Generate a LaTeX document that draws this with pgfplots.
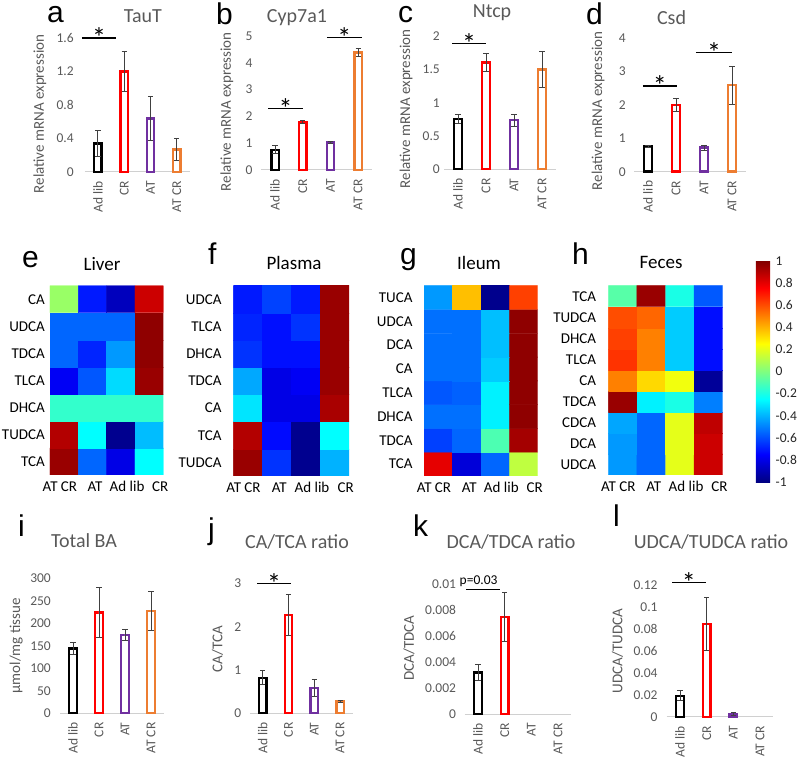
\documentclass[border=0pt]{standalone}
\usepackage{pgfplots}
\pgfplotsset{compat=1.18}
\usepackage{fontspec}
\setmainfont{Carlito}
\newfontfamily\letterfont{Liberation Sans}
\definecolor{txtc}{HTML}{595959}
\definecolor{basec}{HTML}{D0D0D0}
\definecolor{errc}{HTML}{404040}
\definecolor{cred}{HTML}{FF0000}
\definecolor{cpur}{HTML}{7030A0}
\definecolor{corg}{HTML}{ED7D31}
\newcommand{\fs}[1]{\fontsize{#1}{#1}\selectfont}
\pgfkeys{/pgf/number format/assume math mode=true}
\tikzset{
 sig/.style={black, line width=1.3pt},
 star/.style={anchor=base, yshift=-10pt, font=\fs{28}, text=black},
}
\pgfplotsset{
 exbar/.style={scale only axis, anchor=south west, clip=false, ymin=0,
   xmin=-0.5, xmax=3.5, xtick={0,1,2,3}, xticklabels={Ad lib,CR,AT,AT CR},
   axis x line*=bottom, axis y line*=left,
   x axis line style={draw=basec, line width=1pt, -},
   y axis line style={draw=none},
   major tick length=0pt,
   tick label style={font=\fs{13.5}, text=txtc},
   xticklabel style={rotate=90, anchor=east, inner sep=0pt},
   xticklabel shift=9pt,
   scaled y ticks=false,
   yticklabel style={anchor=east, inner sep=0pt, /pgf/number format/fixed, /pgf/number format/precision=3},
   ylabel style={font=\fs{15}, text=txtc, anchor=center},
   title style={font=\fs{20}, text=txtc, anchor=base},
   /pgf/number format/assume math mode=true},
 exb/.style={ybar, bar width=7.5pt, bar shift=0pt, draw=#1, line width=2.4pt, fill=white,
   error bars/.cd, y dir=both, y explicit,
   error bar style={line width=0.9pt, draw=errc},
   error mark options={rotate=90, mark size=2.6pt, line width=0.9pt, draw=errc}},
 heat/.style={scale only axis, anchor=south west, enlargelimits=false,
   xmin=-0.5, xmax=3.5, axis line style={draw=none}, major tick length=0pt,
   xtick={-0.15,1.09,2.22,3.39}, xticklabels={AT CR,AT,Ad lib,CR},
   tick label style={font=\fs{15}, text=black},
   xticklabel style={anchor=base, inner sep=0pt, yshift=-16.5pt},
   yticklabel style={anchor=east, inner sep=0pt},
   colormap/jet, point meta min=-1, point meta max=1,
   title style={font=\fs{19}, text=black, anchor=base}},
}
\begin{document}
\begin{tikzpicture}
\useasboundingbox (0pt,0pt) rectangle (800pt,760pt);

% ---------- a TauT
\begin{axis}[exbar, at={(84.8pt,588pt)}, width=105.2pt, height=134pt, ymax=1.6,
  ytick={0,0.4,0.8,1.2,1.6}, yticklabel style={xshift=-11pt},
  title={TauT}, title style={at={(axis description cs:0.553,1.072)}},
  ylabel={Relative mRNA expression}, ylabel style={at={(axis description cs:-0.426,0.433)}}]
\addplot[exb=black] coordinates {(0,0.34) +- (0,0.16)};
\addplot[exb=cred] coordinates {(1,1.2) +- (0,0.24)};
\addplot[exb=cpur] coordinates {(2,0.64) +- (0,0.26)};
\addplot[exb=corg] coordinates {(3,0.27) +- (0,0.13)};
\draw[sig] (axis cs:-0.61,1.6) -- (axis cs:0.69,1.6);
\node[star] at (axis cs:0.04,1.6) {*};
\end{axis}

% ---------- b Cyp7a1
\begin{axis}[exbar, at={(261.2pt,590pt)}, width=110.8pt, height=134pt, ymax=5,
  ytick={0,1,2,3,4,5}, yticklabel style={xshift=-8.5pt},
  title={Cyp7a1}, title style={at={(axis description cs:0.323,1.057)}},
  ylabel={Relative mRNA expression}, ylabel style={at={(axis description cs:-0.309,0.435)}}]
\addplot[exb=black] coordinates {(0,0.75) +- (0,0.15)};
\addplot[exb=cred] coordinates {(1,1.8) +- (0,0.05)};
\addplot[exb=cpur] coordinates {(2,1.02) +- (0,0.03)};
\addplot[exb=corg] coordinates {(3,4.38) +- (0,0.15)};
\draw[sig] (axis cs:-0.25,2.3) -- (axis cs:1.01,2.3);
\node[star] at (axis cs:0.38,2.3) {*};
\draw[sig] (axis cs:1.87,4.94) -- (axis cs:3.14,4.94);
\node[star] at (axis cs:2.5,4.94) {*};
\end{axis}

% ---------- c Ntcp
\begin{axis}[exbar, at={(444pt,590.7pt)}, width=112pt, height=132.8pt, ymax=2,
  ytick={0,0.5,1,1.5,2}, yticklabel style={xshift=-4pt},
  title={Ntcp}, title style={at={(axis description cs:0.429,1.099)}},
  ylabel={Relative mRNA expression}, ylabel style={at={(axis description cs:-0.339,0.454)}}]
\addplot[exb=black] coordinates {(0,0.76) +- (0,0.07)};
\addplot[exb=cred] coordinates {(1,1.61) +- (0,0.13)};
\addplot[exb=cpur] coordinates {(2,0.74) +- (0,0.09)};
\addplot[exb=corg] coordinates {(3,1.5) +- (0,0.27)};
\draw[sig] (axis cs:-0.21,1.89) -- (axis cs:1.0,1.89);
\node[star] at (axis cs:0.4,1.89) {*};
\end{axis}

% ---------- d Csd
\begin{axis}[exbar, at={(634pt,588.3pt)}, width=112pt, height=133.4pt, ymax=4,
  ytick={0,1,2,3,4}, yticklabel style={xshift=-8pt},
  title={Csd}, title style={at={(axis description cs:0.335,1.062)}},
  ylabel={Relative mRNA expression}, ylabel style={at={(axis description cs:-0.321,0.455)}}]
\addplot[exb=black] coordinates {(0,0.75) +- (0,0.03)};
\addplot[exb=cred] coordinates {(1,2.0) +- (0,0.2)};
\addplot[exb=cpur] coordinates {(2,0.72) +- (0,0.08)};
\addplot[exb=corg] coordinates {(3,2.6) +- (0,0.57)};
\draw[sig] (axis cs:-0.18,2.57) -- (axis cs:1.03,2.57);
\node[star] at (axis cs:0.42,2.57) {*};
\draw[sig] (axis cs:1.71,3.58) -- (axis cs:3.0,3.58);
\node[star] at (axis cs:2.36,3.58) {*};
\end{axis}

% ---------- e Liver
\begin{axis}[heat, at={(50pt,285pt)}, width=113.3pt, height=189.3pt,
  ymin=-0.5, ymax=6.5, ytick={0,1,2,3,4,5,6},
  yticklabels={TCA,TUDCA,DHCA,TLCA,TDCA,UDCA,CA}, yticklabel style={xshift=-5pt},
  title={Liver}, title style={at={(axis description cs:0.459,1.051)}}]
\addplot[matrix plot*, mesh/cols=4, point meta=explicit] table[meta=c] {
x y c
0 0 0.95
1 0 -0.55
2 0 -0.8
3 0 -0.25
0 1 0.9
1 1 -0.25
2 1 -0.97
3 1 -0.38
0 2 -0.15
1 2 -0.15
2 2 -0.15
3 2 -0.15
0 3 -0.77
1 3 -0.58
2 3 -0.32
3 3 0.95
0 4 -0.55
1 4 -0.68
2 4 -0.45
3 4 0.97
0 5 -0.55
1 5 -0.55
2 5 -0.55
3 5 0.97
0 6 0.05
1 6 -0.7
2 6 -0.88
3 6 0.85
};
\end{axis}

% ---------- f Plasma
\begin{axis}[heat, at={(233.3pt,284pt)}, width=115.7pt, height=190.3pt,
  ymin=-0.5, ymax=6.5, ytick={0,1,2,3,4,5,6},
  yticklabels={TUDCA,TCA,CA,TDCA,DHCA,TLCA,UDCA}, yticklabel style={xshift=-11.6pt},
  title={Plasma}, title style={at={(axis description cs:0.525,1.056)}}]
\addplot[matrix plot*, mesh/cols=4, point meta=explicit] table[meta=c] {
x y c
0 0 0.95
1 0 -0.65
2 0 -0.97
3 0 -0.4
0 1 0.9
1 1 -0.73
2 1 -0.97
3 1 -0.25
0 2 -0.3
1 2 -0.8
2 2 -0.8
3 2 0.92
0 3 -0.42
1 3 -0.8
2 3 -0.77
3 3 0.95
0 4 -0.65
1 4 -0.72
2 4 -0.72
3 4 0.95
0 5 -0.68
1 5 -0.72
2 5 -0.65
3 5 0.95
0 6 -0.7
1 6 -0.62
2 6 -0.7
3 6 0.95
};
\end{axis}

% ---------- g Ileum
\begin{axis}[heat, at={(424pt,284pt)}, width=113.7pt, height=190.3pt,
  ymin=-0.5, ymax=7.5, ytick={0,1,2,3,4,5,6,7},
  yticklabels={TCA,TDCA,DHCA,TLCA,CA,DCA,UDCA,TUCA}, yticklabel style={xshift=-11.3pt},
  title={Ileum}, title style={at={(axis description cs:0.484,1.056)}}]
\addplot[matrix plot*, mesh/cols=4, point meta=explicit] table[meta=c] {
x y c
0 0 0.8
1 0 -0.825
2 0 -0.55
3 0 0.125
0 1 -0.625
1 1 -0.55
2 1 -0.1
3 1 0.93
0 2 -0.53
1 2 -0.53
2 2 -0.275
3 2 0.97
0 3 -0.58
1 3 -0.56
2 3 -0.275
3 3 0.97
0 4 -0.53
1 4 -0.53
2 4 -0.35
3 4 0.97
0 5 -0.53
1 5 -0.53
2 5 -0.375
3 5 0.97
0 6 -0.53
1 6 -0.53
2 6 -0.375
3 6 0.97
0 7 -0.45
1 7 0.375
2 7 -0.975
3 7 0.625
};
\end{axis}

% ---------- h Feces (with colour bar)
\begin{axis}[heat, at={(608.3pt,285pt)}, width=114.4pt, height=189.3pt,
  ymin=-0.5, ymax=8.5, ytick={0,1,2,3,4,5,6,7,8},
  yticklabels={UDCA,DCA,CDCA,TDCA,CA,TLCA,DHCA,TUDCA,TCA}, yticklabel style={xshift=-12pt},
  title={Feces}, title style={at={(axis description cs:0.461,1.057)}},
  colorbar,
  colorbar style={at={(parent axis.north east)}, anchor=north west,
    xshift=24.6pt, yshift=25pt, scale only axis, width=16.7pt, height=221.6pt,
    axis line style={draw=none}, major tick length=0pt,
    ytick={-1,-0.8,-0.6,-0.4,-0.2,0,0.2,0.4,0.6,0.8,1},
    yticklabel style={font=\fs{13.5}, text=black!85, inner sep=0pt, anchor=west, xshift=3pt,
      /pgf/number format/fixed, /pgf/number format/precision=1,
      /pgf/number format/assume math mode=true}}]
\addplot[matrix plot*, mesh/cols=4, point meta=explicit] table[meta=c] {
x y c
0 0 -0.45
1 0 -0.55
2 0 0.2
3 0 0.85
0 1 -0.45
1 1 -0.55
2 1 0.2
3 1 0.85
0 2 -0.425
1 2 -0.55
2 2 0.2
3 2 0.875
0 3 0.95
1 3 -0.275
2 3 -0.2
3 3 -0.5
0 4 0.5
1 4 0.325
2 4 0.225
3 4 -0.95
0 5 0.65
1 5 0.5
2 5 -0.35
3 5 -0.725
0 6 0.625
1 6 0.5
2 6 -0.35
3 6 -0.725
0 7 0.6
1 7 0.55
2 7 -0.35
3 7 -0.725
0 8 -0.08
1 8 0.95
2 8 -0.2
3 8 -0.575
};
\end{axis}

% ---------- i Total BA
\begin{axis}[exbar, at={(60pt,46.7pt)}, width=104pt, height=135pt, ymax=300,
  ytick={0,50,100,150,200,250,300}, yticklabel style={xshift=-9pt},
  title={Total BA}, title style={at={(axis description cs:0.231,1.18)}},
  ylabel={µmol/mg tissue}, ylabel style={at={(axis description cs:-0.42,0.5)}}]
\addplot[exb=black] coordinates {(0,144) +- (0,14)};
\addplot[exb=cred] coordinates {(1,224) +- (0,56)};
\addplot[exb=cpur] coordinates {(2,174) +- (0,13)};
\addplot[exb=corg] coordinates {(3,227) +- (0,43)};
\end{axis}

% ---------- j CA/TCA
\begin{axis}[exbar, at={(249.8pt,46.7pt)}, width=103.2pt, height=130pt, ymax=3,
  ytick={0,1,2,3}, yticklabel style={xshift=-8.5pt},
  title={CA/TCA ratio}, title style={at={(axis description cs:0.457,1.225)}},
  ylabel={CA/TCA}, ylabel style={at={(axis description cs:-0.314,0.495)}}]
\addplot[exb=black] coordinates {(0,0.82) +- (0,0.16)};
\addplot[exb=cred] coordinates {(1,2.27) +- (0,0.48)};
\addplot[exb=cpur] coordinates {(2,0.59) +- (0,0.19)};
\addplot[exb=corg] coordinates {(3,0.27) +- (0,0.03)};
\draw[sig] (axis cs:-0.22,3.0) -- (axis cs:1.1,3.0);
\node[star] at (axis cs:0.44,3.0) {*};
\end{axis}

% ---------- k DCA/TDCA
\begin{axis}[exbar, at={(464.7pt,46pt)}, width=106.7pt, height=129.7pt, ymax=0.01,
  ytick={0,0.002,0.004,0.006,0.008,0.01}, yticklabel style={xshift=-8.5pt},
  title={DCA/TDCA ratio}, title style={at={(axis description cs:0.434,1.226)}},
  ylabel={DCA/TDCA}, ylabel style={at={(axis description cs:-0.522,0.509)}}]
\addplot[exb=black] coordinates {(0,0.0032) +- (0,0.00065)};
\addplot[exb=cred] coordinates {(1,0.0075) +- (0,0.0019)};
\draw[sig] (axis cs:-0.45,0.0096) -- (axis cs:0.82,0.0096);
\node[anchor=base, yshift=5pt, font=\fs{13.5}, text=black] at (axis cs:0.02,0.0096) {p=0.03};
\end{axis}

% ---------- l UDCA/TUDCA
\begin{axis}[exbar, at={(666.7pt,43.3pt)}, width=106.7pt, height=131.7pt, ymax=0.12,
  ytick={0,0.02,0.04,0.06,0.08,0.1,0.12}, yticklabel style={xshift=-9pt},
  title={UDCA/TUDCA ratio}, title style={at={(axis description cs:0.415,1.228)}},
  ylabel={UDCA/TUDCA}, ylabel style={at={(axis description cs:-0.461,0.499)}}]
\addplot[exb=black] coordinates {(0,0.019) +- (0,0.0045)};
\addplot[exb=cred] coordinates {(1,0.0845) +- (0,0.024)};
\addplot[exb=cpur] coordinates {(2,0.0025) +- (0,0.001)};
\draw[sig] (axis cs:-0.3,0.1225) -- (axis cs:0.97,0.1225);
\node[star] at (axis cs:0.33,0.1225) {*};
\end{axis}

% ---------- panel letters
\begin{scope}[every node/.style={anchor=base west, inner sep=0pt, font=\letterfont\fs{30}}]
\node at (47pt,737pt) {a};
\node at (216pt,735pt) {b};
\node at (398pt,737pt) {c};
\node at (586pt,735pt) {d};
\node at (22pt,492pt) {e};
\node at (208pt,495pt) {f};
\node at (400pt,495pt) {g};
\node at (572pt,495pt) {h};
\node at (18pt,223pt) {i};
\node at (208pt,220pt) {j};
\node at (413pt,223pt) {k};
\node at (613pt,233pt) {l};
\end{scope}
\end{tikzpicture}
\end{document}
